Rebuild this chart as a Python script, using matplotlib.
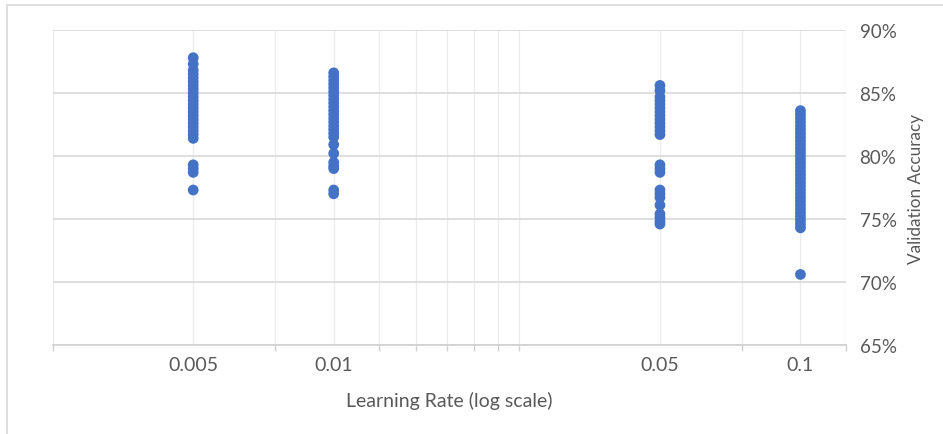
import matplotlib
matplotlib.use("Agg")
import matplotlib.pyplot as plt
from matplotlib.patches import Rectangle
from matplotlib.ticker import FixedLocator, FuncFormatter

# ---- data ----
lr_values = [0.005, 0.01, 0.05, 0.1]
acc_0005 = [87.8, 87.3, 86.8, 86.5, 86.2, 85.9, 85.6, 85.3, 85.0, 84.7, 84.4, 84.1,
            83.8, 83.5, 83.2, 82.9, 82.6, 82.3, 82.0, 81.7, 81.4, 79.3, 79.0, 78.7, 77.3]
acc_001 = [86.6, 86.3, 86.0, 85.7, 85.4, 85.1, 84.8, 84.5, 84.2, 83.9, 83.6, 83.3,
           83.0, 82.7, 82.4, 82.1, 81.8, 81.5, 80.9, 80.2, 79.5, 79.2, 79.0, 77.3, 77.0]
acc_005 = [85.6, 85.2, 84.7, 84.4, 84.1, 83.8, 83.5, 83.2, 82.9, 82.6, 82.3, 82.0,
           81.7, 79.3, 79.0, 78.7, 77.3, 77.0, 76.7, 76.1, 75.4, 75.1, 74.8, 74.6]
acc_01 = [83.6, 83.3, 83.0, 82.7, 82.4, 82.1, 81.8, 81.5, 81.2, 80.9, 80.6, 80.3,
          80.0, 79.7, 79.4, 79.1, 78.8, 78.5, 78.2, 77.9, 77.6, 77.3, 77.0, 76.7,
          76.4, 76.1, 75.8, 75.5, 75.2, 74.9, 74.6, 74.3, 70.6]
series = [acc_0005, acc_001, acc_005, acc_01]
x_tick_labels = ["0.005", "0.01", "0.05", "0.1"]
y_ticks = [65, 70, 75, 80, 85, 90]

# ---- style ----
plt.rcParams['font.family'] = ['Lato', 'DejaVu Sans']
text_color = "#595959"
blue = "#4472C4"

fig = plt.figure(figsize=(9.43, 4.35), dpi=100)
fig.patch.set_facecolor("white")
fig.patches.append(Rectangle((7 / 943, -0.1), 1.1, 1 - 6 / 435 + 0.1,
                             transform=fig.transFigure, fill=False,
                             edgecolor="#d9d9d9", linewidth=1.2))

ax = fig.add_axes([52.7 / 943, 1 - 346 / 435, (845.7 - 52.7) / 943, (346 - 31) / 435])
ax.set_xscale("log")
ax.set_xlim(0.0025, 0.125)
ax.set_ylim(65, 90)

for lr, vals in zip(lr_values, series):
    ax.scatter([lr] * len(vals), vals, s=60, color=blue, edgecolors="none", zorder=3)

grid_x = [0.0025, 0.005, 0.0075, 0.01, 0.0125, 0.015, 0.0175, 0.02, 0.0225, 0.025,
          0.05, 0.075, 0.1, 0.125]
ax.xaxis.set_major_locator(FixedLocator(lr_values))
ax.xaxis.set_minor_locator(FixedLocator(grid_x))
ax.xaxis.set_major_formatter(FuncFormatter(lambda v, p: x_tick_labels[lr_values.index(v)]
                                           if v in lr_values else ""))
ax.xaxis.set_minor_formatter(FuncFormatter(lambda v, p: ""))
ax.tick_params(axis="x", which="both", length=4, width=1, color="#d0d0d0",
               labelsize=14, labelcolor=text_color, pad=8)
ax.tick_params(axis="x", which="major", length=0)
for v in grid_x:
    ax.axvline(v, color="#ececec", linewidth=1, zorder=0)

ax.yaxis.tick_right()
ax.set_yticks(y_ticks)
ax.set_yticklabels([f"{t}%" for t in y_ticks])
ax.tick_params(axis="y", length=0, labelsize=13.5, labelcolor=text_color, pad=10)
for t in y_ticks:
    ax.axhline(t, color="#d9d9d9", linewidth=1.2, zorder=0)

for s in ["top", "left", "right"]:
    ax.spines[s].set_visible(False)
ax.spines["bottom"].set_color("#d0d0d0")
ax.spines["bottom"].set_linewidth(1.2)

ax.set_xlabel("Learning Rate (log scale)", fontsize=14, color=text_color, labelpad=13)
ax.yaxis.set_label_position("right")
ax.set_ylabel("Validation Accuracy", fontsize=12.3, color=text_color, labelpad=8.5)

fig.savefig("out.png", dpi=100, facecolor="white")
